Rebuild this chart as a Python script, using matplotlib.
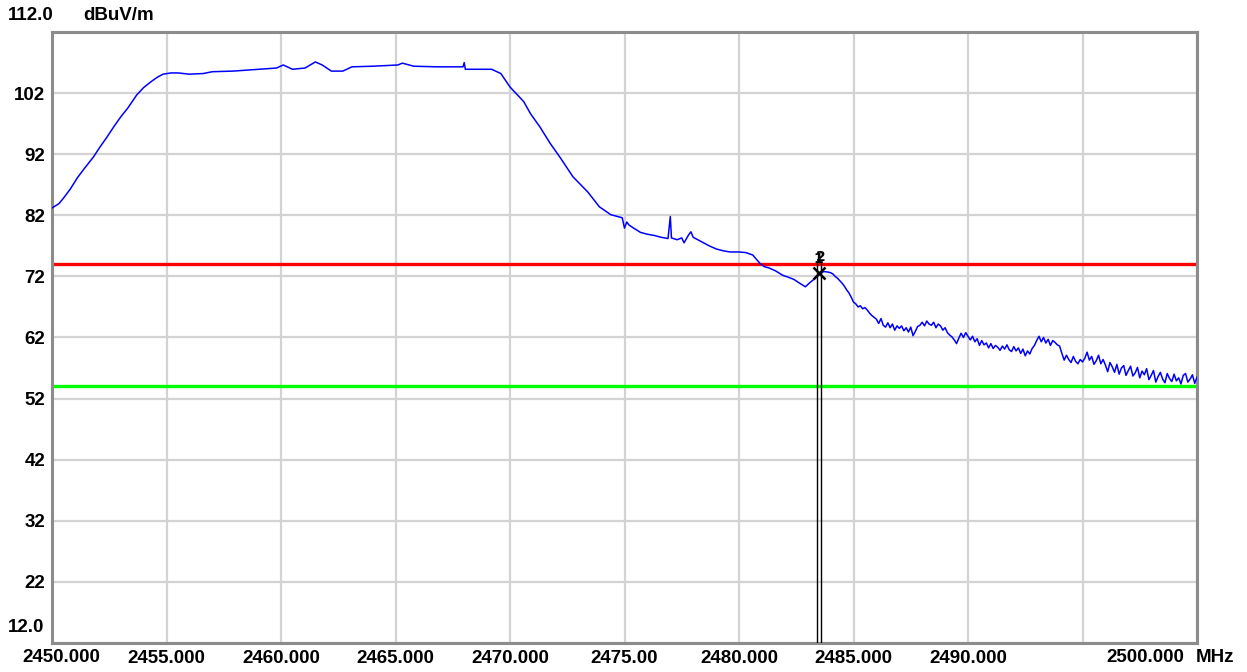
import matplotlib
matplotlib.use("Agg")
from matplotlib import pyplot as plt

# sweep 2450-2500 MHz, peak detector trace (dBuV/m)
freq_main = [2450.0, 2450.3, 2450.5, 2450.8, 2451.1, 2451.4, 2451.8, 2452.1, 2452.4, 2452.7,
             2453.0, 2453.3, 2453.7, 2454.0, 2454.3, 2454.6, 2454.85, 2455.2, 2455.5, 2456.0,
             2456.6, 2457.0, 2457.9, 2459.0, 2459.8, 2460.1, 2460.5, 2461.05, 2461.5, 2461.8,
             2462.2, 2462.7, 2463.1, 2464.0, 2465.1, 2465.3, 2465.8, 2466.8, 2467.5, 2467.95,
             2468.0, 2468.05, 2468.7, 2469.2, 2469.6, 2470.0, 2470.3, 2470.6, 2470.9, 2471.3,
             2471.75, 2472.2, 2472.75, 2473.4, 2473.9, 2474.4]
level_main = [83.2, 83.9, 84.8, 86.3, 88.1, 89.6, 91.5, 93.2, 94.8, 96.5,
              98.1, 99.5, 101.7, 102.9, 103.8, 104.6, 105.1, 105.3, 105.3, 105.1,
              105.2, 105.5, 105.6, 105.9, 106.1, 106.6, 105.9, 106.1, 107.1, 106.6,
              105.6, 105.6, 106.3, 106.4, 106.6, 106.9, 106.4, 106.3, 106.3, 106.3,
              107.0, 105.9, 105.9, 105.9, 105.2, 103.0, 101.8, 100.6, 98.6, 96.5,
              93.8, 91.4, 88.3, 85.8, 83.4, 82.1]

freq_edge = [2474.8, 2474.9, 2475.0, 2475.1, 2475.2, 2475.4, 2475.7, 2476.0, 2476.3, 2476.6,
             2476.9, 2477.0, 2477.05, 2477.3, 2477.5, 2477.6, 2477.8, 2477.9, 2478.0, 2478.2,
             2478.4, 2478.7, 2479.0, 2479.3, 2479.6, 2480.0, 2480.3, 2480.6, 2480.9, 2481.1,
             2481.3, 2481.6, 2481.9, 2482.2, 2482.4, 2482.6, 2482.9, 2483.1, 2483.3, 2483.5,
             2483.7, 2483.9]
level_edge = [81.7, 81.6, 79.9, 80.9, 80.4, 79.9, 79.2, 78.9, 78.7, 78.4,
              78.2, 81.8, 78.3, 78.0, 78.3, 77.5, 78.8, 79.3, 78.4, 78.0,
              77.6, 77.0, 76.5, 76.2, 76.0, 76.0, 75.9, 75.5, 74.2, 73.6,
              73.4, 72.9, 72.2, 71.8, 71.5, 71.0, 70.3, 71.0, 71.6, 72.3,
              72.8, 72.7]

# 2484.0 .. 2500.0 MHz in 0.1 MHz steps
level_tail = [72.6, 72.4, 72.0, 71.7, 71.3, 70.9, 70.4, 69.8, 69.3, 68.6,
              67.8, 67.5, 67.0, 67.2, 66.7, 66.9, 66.5, 66.0, 65.6, 65.3,
              65.0, 64.3, 65.1, 64.0, 63.7, 64.4, 63.6, 64.2, 63.2, 63.9,
              63.5, 63.9, 63.1, 63.6, 62.9, 63.7, 62.3, 63.0, 63.8, 64.0,
              64.5, 63.9, 64.7, 64.2, 64.0, 64.5, 63.6, 64.2, 63.9, 63.2,
              63.6, 62.8, 62.4, 62.1, 61.6, 61.0, 61.9, 62.7, 62.0, 62.8,
              62.2, 61.6, 62.2, 61.3, 61.8, 60.7, 61.5, 60.8, 61.1, 60.3,
              61.0, 60.2, 60.7, 60.4, 59.9, 60.6, 60.1, 60.8, 60.0, 59.7,
              60.5, 59.8, 60.3, 59.4, 60.1, 59.0, 59.8, 59.3, 60.2, 60.7,
              61.5, 62.2, 61.3, 62.0, 61.1, 61.7, 60.7, 61.5, 61.2, 60.8,
              60.6, 59.4, 58.3, 59.1, 58.4, 57.9, 58.9, 58.1, 57.7, 58.4,
              58.0, 58.6, 59.6, 58.3, 58.9, 57.6, 58.2, 59.1, 57.7, 58.4,
              57.5, 56.4, 57.9, 57.2, 56.3, 57.6, 56.0, 57.0, 57.4, 55.8,
              56.6, 57.3, 55.7, 56.2, 57.1, 55.4, 56.5, 55.9, 56.9, 55.1,
              55.8, 56.6, 54.7, 55.6, 56.3, 55.2, 54.6, 56.1, 55.3, 54.8,
              56.0, 54.9, 55.4, 54.4, 55.8, 56.1, 54.7, 55.2, 55.9, 54.5,
              55.5]
freq_tail = [round(2484.0 + 0.1 * i, 1) for i in range(len(level_tail))]

freq = freq_main + freq_edge + freq_tail
level = level_main + level_edge + level_tail

limit_peak = 74.0
limit_avg = 54.0
marker_freq = 2483.5
marker_level = 72.5

x_ticks = [2450, 2455, 2460, 2465, 2470, 2475, 2480, 2485, 2490, 2495, 2500]
x_labels = ["", "2455.000", "2460.000", "2465.000", "2470.000", "2475.00",
            "2480.000", "2485.000", "2490.000", "", ""]
y_ticks = [12, 22, 32, 42, 52, 62, 72, 82, 92, 102, 112]
y_labels = ["", "22", "32", "42", "52", "62", "72", "82", "92", "102", ""]

fig = plt.figure(figsize=(12.47, 6.72), dpi=100)
ax = fig.add_axes([52 / 1247, 29 / 672, 1145 / 1247, 611 / 672])

ax.plot(freq, level, color="#0000ff", lw=1.1, zorder=3)
ax.axhline(limit_peak, color="#ff0000", lw=2.4, zorder=2)
ax.axhline(limit_avg, color="#00ff00", lw=2.4, zorder=2)

# marker 1 / 2 with double vertical line down to the axis
ax.plot([marker_freq - 0.1, marker_freq - 0.1], [12, marker_level + 1.8], color="black", lw=1.0, zorder=4)
ax.plot([marker_freq + 0.1, marker_freq + 0.1], [12, marker_level + 1.8], color="black", lw=1.0, zorder=4)
ax.plot([marker_freq], [marker_level], marker="x", color="black", ms=8, mew=1.8, zorder=5)
ax.text(marker_freq - 0.05, marker_level + 1.2, "1", fontsize=10, fontweight="bold", ha="center", va="bottom", zorder=5)
ax.text(marker_freq + 0.05, marker_level + 1.5, "2", fontsize=10, fontweight="bold", ha="center", va="bottom", zorder=5)

ax.set_xlim(2450, 2500)
ax.set_ylim(12, 112)
ax.set_xticks(x_ticks)
ax.set_xticklabels(x_labels)
ax.set_yticks(y_ticks)
ax.set_yticklabels(y_labels)
ax.tick_params(length=0, labelsize=13.5, pad=5)
for lab in ax.get_xticklabels() + ax.get_yticklabels():
    lab.set_fontweight("bold")
    lab.set_family("Liberation Sans")
ax.grid(True, color="#d3d3d3", lw=1.6, zorder=0)
ax.set_axisbelow(True)
for side in ["left", "bottom", "right", "top"]:
    ax.spines[side].set_color("#8c8c8c")
    ax.spines[side].set_linewidth(2.2)

fnt = dict(fontsize=13.5, fontweight="bold", family="Liberation Sans")
fig.text(8 / 1247, 1 - 16 / 672, "112.0", ha="left", va="center", **fnt)
fig.text(83 / 1247, 1 - 16 / 672, "dBuV/m", ha="left", va="center", **fnt)
fig.text(44 / 1247, 1 - 627 / 672, "12.0", ha="right", va="center", **fnt)
fig.text(22 / 1247, 1 - 658 / 672, "2450.000", ha="left", va="center", **fnt)
fig.text(1184 / 1247, 1 - 658 / 672, "2500.000", ha="right", va="center", **fnt)
fig.text(1196 / 1247, 1 - 658 / 672, "MHz", ha="left", va="center", **fnt)

fig.savefig("out.png", dpi=100)
